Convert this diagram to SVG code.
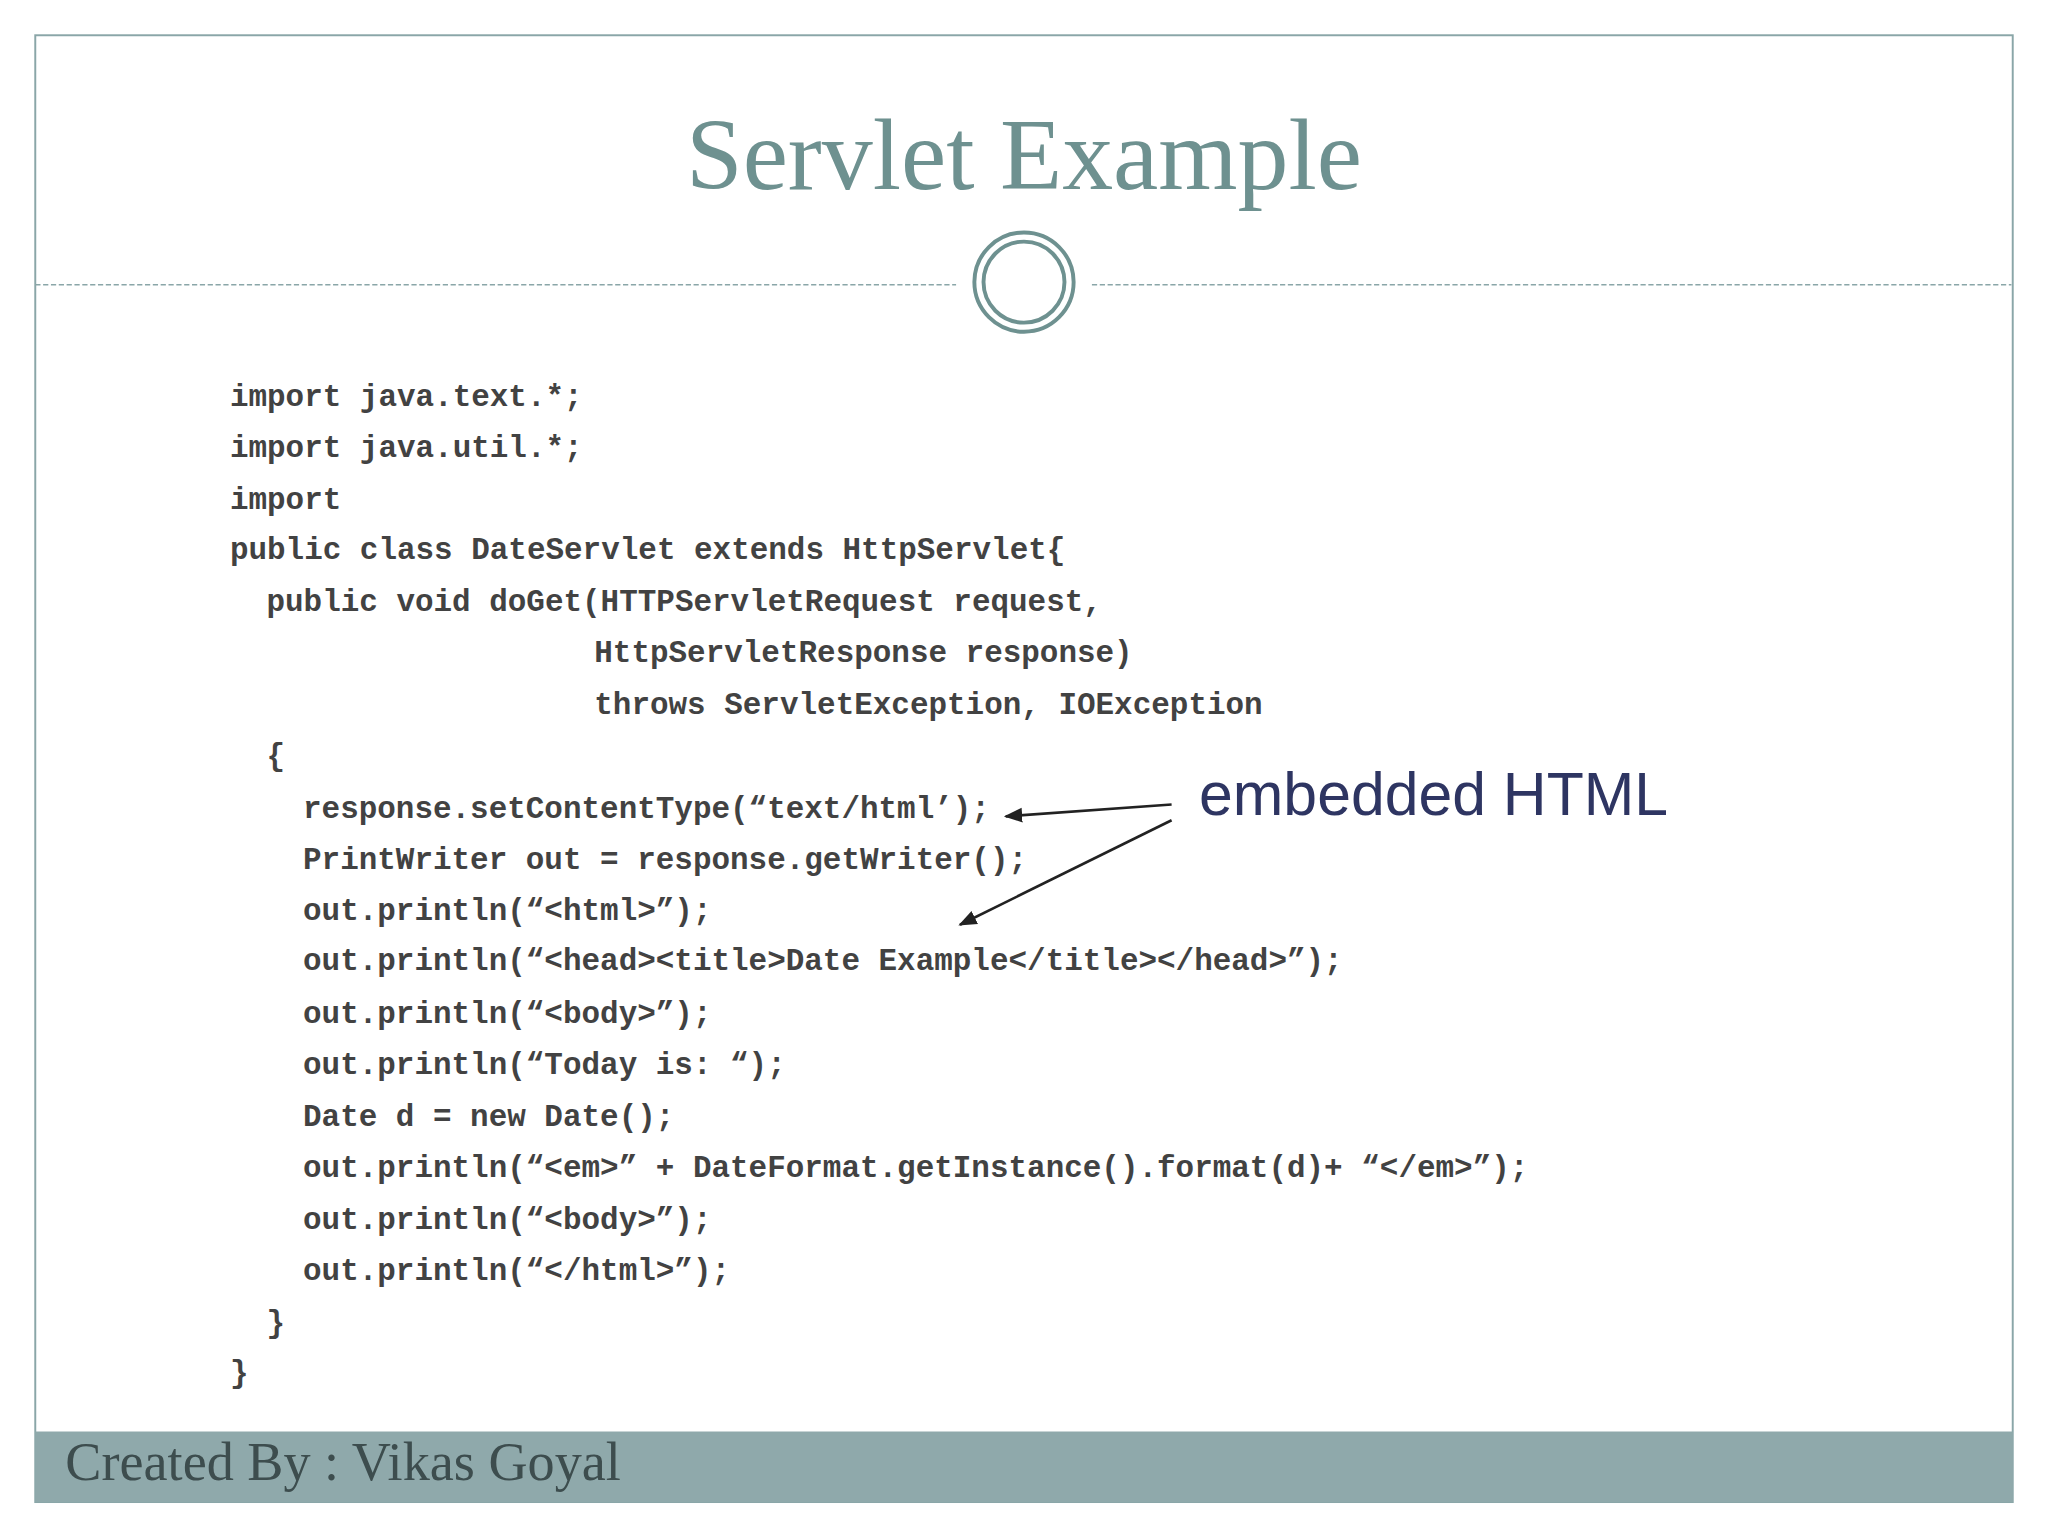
<svg xmlns="http://www.w3.org/2000/svg" width="2048" height="1536" viewBox="0 0 2048 1536">
<style>
.code{font-family:"Liberation Mono","DejaVu Sans Mono",monospace;font-size:23.7px;fill:#222;font-weight:bold;opacity:.85}
.conn{stroke:#222;stroke-width:2;fill:none;marker-end:url(#ah)}
</style>
<defs><marker id="ah" viewBox="0 0 10 10" refX="9" refY="5" markerWidth="7" markerHeight="7" orient="auto"><path d="M0,1 L10,5 L0,9 Z" fill="#222"/></marker></defs>
<rect width="2048" height="1536" fill="#fff"/>
<g transform="scale(1.30612)">
<rect x="27" y="27" width="1514" height="1123" fill="none" stroke="#8aa6a8" stroke-width="1.5"/>
<g id="title"><text x="784" y="145" text-anchor="middle" font-family="Liberation Serif,serif" font-size="78" fill="#6e9190">Servlet Example</text></g>
<g id="divider">
<line x1="27" y1="218" x2="732" y2="218" stroke="#8aa6a8" stroke-dasharray="4,2"/>
<line x1="836" y1="218" x2="1540" y2="218" stroke="#8aa6a8" stroke-dasharray="4,2"/>
<circle cx="784" cy="216" r="38" fill="none" stroke="#6e9190" stroke-width="3"/>
<circle cx="784" cy="216" r="31" fill="none" stroke="#6e9190" stroke-width="3"/>
</g>
<g id="code">
<text class="code" x="176" y="311">import java.text.*;</text>
<text class="code" x="176" y="350">import java.util.*;</text>
<text class="code" x="176" y="390">import</text>
<text class="code" x="176" y="428">public class DateServlet extends HttpServlet{</text>
<text class="code" x="204" y="468">public void doGet(HTTPServletRequest request,</text>
<text class="code" x="455" y="507">HttpServletResponse  response)</text>
<text class="code" x="455" y="547">throws ServletException, IOException</text>
<text class="code" x="204" y="586">{</text>
<text class="code" x="232" y="626">response.setContentType(“text/html’);</text>
<text class="code" x="232" y="665">PrintWriter out = response.getWriter();</text>
<text class="code" x="232" y="704">out.println(“&lt;html&gt;”);</text>
<text class="code" x="232" y="743">out.println(“&lt;head&gt;&lt;title&gt;Date Example&lt;/title&gt;&lt;/head&gt;”);</text>
<text class="code" x="232" y="783">out.println(“&lt;body&gt;”);</text>
<text class="code" x="232" y="822">out.println(“Today is: “);</text>
<text class="code" x="232" y="862">Date d = new Date();</text>
<text class="code" x="232" y="901">out.println(“&lt;em&gt;” + DateFormat.getInstance().format(d)+ “&lt;/em&gt;”);</text>
<text class="code" x="232" y="941">out.println(“&lt;body&gt;”);</text>
<text class="code" x="232" y="980">out.println(“&lt;/html&gt;”);</text>
<text class="code" x="204" y="1020">}</text>
<text class="code" x="176" y="1058">}</text>
</g>
<g id="label"><text x="918" y="624" font-family="Liberation Sans,Arial,sans-serif" font-size="46.5" fill="#2e3562">embedded HTML</text></g>
<g id="connectors">
<line class="conn" x1="897" y1="616" x2="770" y2="625"/>
<line class="conn" x1="897" y1="628" x2="735" y2="708"/>
</g>
<g id="footer">
<rect x="27" y="1096" width="1514" height="54" fill="#8fa9ab"/>
<text x="50" y="1133" font-family="Liberation Serif,serif" font-size="41.5" fill="#3d4d4e">Created By : Vikas Goyal</text>
</g>
</g>
</svg>
